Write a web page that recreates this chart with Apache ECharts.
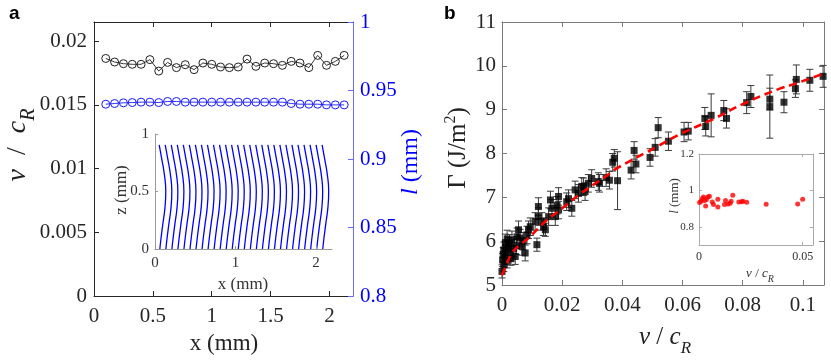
<!DOCTYPE html>
<html><head><meta charset="utf-8">
<script src="https://cdn.jsdelivr.net/npm/echarts@6/dist/echarts.min.js"></script>
<style>html,body{margin:0;padding:0;background:#fff}#c{width:831px;height:362px}</style>
</head><body><div id="c"></div>
<script>
// ---- Panel a: front velocity and length along x ----
const xPos = [0.10,0.175,0.25,0.325,0.40,0.475,0.55,0.625,0.70,0.775,0.85,0.925,1.00,1.075,1.15,1.225,1.30,1.375,1.45,1.525,1.60,1.675,1.75,1.825,1.90,1.975,2.05,2.125];
const vOverCR = [0.01864,0.01836,0.01823,0.01818,0.01818,0.01855,0.01765,0.01833,0.01792,0.01815,0.01776,0.01828,0.01818,0.01797,0.01792,0.01797,0.01859,0.01802,0.01828,0.01823,0.01810,0.01841,0.01828,0.01792,0.01888,0.01810,0.01841,0.01888];
const lengthMM = [0.9400,0.9405,0.9410,0.9412,0.9415,0.9415,0.9412,0.9420,0.9420,0.9415,0.9415,0.9415,0.9415,0.9415,0.9415,0.9415,0.9415,0.9415,0.9415,0.9415,0.9415,0.9405,0.9400,0.9400,0.9400,0.9395,0.9395,0.9395];
// inset a: front shape (offset from front mean position vs height z)
const frontZ  = [0.0, 0.10, 0.21, 0.36, 0.50, 0.64, 0.79, 0.905];
const frontDx = [-0.040, -0.024, -0.004, 0.024, 0.034, 0.018, -0.018, -0.048];
// ---- Panel b: fracture energy vs v/cR ----
const gV   = [0.0000,0.0006,0.0009,0.0006,0.0011,0.0017,0.0002,0.0022,0.0028,0.0017,0.0033,0.0039,0.0044,0.0055,0.0060,0.0066,0.0077,0.0083,0.0088,0.0094,0.0110,0.0116,0.0121,0.0121,0.0133,0.0138,0.0144,0.0155,0.0161,0.0166,0.0177,0.0183,0.0188,0.0188,0.0215,0.0221,0.0232,0.0243,0.0254,0.0265,0.0276,0.0287,0.0298,0.0320,
              0.0004,0.0013,0.0025,0.0030,0.0048,0.0050,0.0070,
              0.0271,0.0324,0.0346,0.0357,0.0368,0.0373,0.0384,0.0429,0.0439,0.0445,0.0492,0.0509,0.0519,0.0553,
              0.0605,0.0619,0.0674,0.0677,0.0695,0.0737,0.0746,0.0813,0.0827,0.0890,0.0890,0.0937,0.0975,0.0978,0.1023,0.1067];
const gGamma = [5.31,5.46,5.65,5.80,5.96,6.05,5.57,5.88,5.73,5.54,6.03,5.84,5.65,6.26,6.07,5.88,5.73,6.14,6.26,6.33,6.45,5.92,6.79,6.56,6.45,6.33,6.26,6.56,6.94,6.75,6.56,6.82,7.02,6.71,6.90,6.97,6.75,7.17,7.09,7.25,7.13,7.32,7.43,7.36,
              5.70,5.85,5.95,5.60,5.90,6.10,6.00,
              7.24,7.32,7.45,7.39,7.80,7.89,7.38,7.62,8.07,7.76,7.91,8.14,8.59,8.28,
              8.49,8.51,8.80,8.62,8.87,8.98,8.80,9.16,9.30,9.24,9.07,9.17,9.48,9.69,9.67,9.76];
const gErr = [0.15,0.15,0.18,0.18,0.2,0.2,0.15,0.2,0.18,0.15,0.2,0.2,0.18,0.2,0.2,0.2,0.18,0.2,0.2,0.2,0.2,0.15,0.2,0.2,0.2,0.2,0.15,0.2,0.2,0.2,0.2,0.2,0.2,0.2,0.2,0.2,0.18,0.2,0.2,0.2,0.2,0.2,0.2,0.2,
              0.15,0.18,0.2,0.15,0.2,0.2,0.2,
              0.2,0.2,0.2,0.2,0.2,0.2,0.66,0.2,0.2,0.2,0.2,0.2,0.23,0.21,
              0.22,0.2,0.25,0.22,0.49,0.23,0.22,0.25,0.25,0.25,0.72,0.24,0.2,0.33,0.25,0.25];
const fitV = [0,0.002,0.0033,0.006,0.0088,0.0144,0.02,0.0254,0.0343,0.0381,0.0519,0.0591,0.07,0.0813,0.0923,0.0978,0.1067];
const fitG = [5.22,5.55,5.73,5.92,6.07,6.45,6.75,7.05,7.47,7.66,8.17,8.44,8.78,9.17,9.48,9.60,9.82];
// inset b: front length vs v/cR
const insV = [0.0003,0.0010,0.0016,0.0022,0.0027,0.0032,0.0036,0.0043,0.0050,0.0064,0.0070,0.0091,0.0091,0.0123,0.0128,0.0140,0.0150,0.0155,0.0163,0.0192,0.0205,0.0212,0.0230,0.0324,0.0476,0.0500];
const insL = [0.933,0.940,0.955,0.964,0.945,0.914,0.950,0.964,0.968,0.936,0.922,0.951,0.909,0.922,0.945,0.925,0.930,0.940,0.973,0.936,0.938,0.940,0.935,0.924,0.925,0.951];
// tick values
const aXTicks = [0,0.5,1,1.5,2];
const aYTicks = [0,0.005,0.01,0.015,0.02];
const aY2Ticks = [0.8,0.85,0.9,0.95,1];
const iaXTicks = [0,1,2];
const iaYTicks = [0,0.5,1];
const bXTicks = [0,0.02,0.04,0.06,0.08,0.1];
const bYTicks = [5,6,7,8,9,10,11];
const ibXTicks = [0,0.05];
const ibYTicks = [0.8,1,1.2];

const SERIF = 'Liberation Serif';
const AX = '#262626';
function axis(o){
  const c = o.color || AX;
  return Object.assign({
    type:'value', min:o.min, max:o.max, gridIndex:o.grid, position:o.pos, z:o.z||0,
    axisLine:{show:true, onZero:false, lineStyle:{color:o.lineColor||c, width:1}},
    axisTick:{show:true, inside:true, length:o.tickLen||5, customValues:o.ticks, lineStyle:{color:o.lineColor||c}},
    axisLabel:{show:!o.noLabel, customValues:o.ticks, color:c, fontFamily:SERIF, fontStyle:'normal', fontWeight:'normal', fontSize:o.fs||21, margin:o.margin||8},
    splitLine:{show:false}
  }, o.extra||{});
}
const chart = echarts.init(document.getElementById('c'), null, {renderer:'canvas'});
const series = [];
series.push({type:'line', xAxisIndex:0, yAxisIndex:0, data:xPos.map((x,i)=>[x,vOverCR[i]]),
  symbol:'circle', symbolSize:8, itemStyle:{color:'rgba(0,0,0,0)', borderColor:'#222', borderWidth:1},
  lineStyle:{color:'#222', width:0.9}, z:3});
series.push({type:'line', xAxisIndex:0, yAxisIndex:1, data:xPos.map((x,i)=>[x,lengthMM[i]]),
  symbol:'circle', symbolSize:8, itemStyle:{color:'rgba(0,0,0,0)', borderColor:'#1a1aff', borderWidth:1},
  lineStyle:{color:'#1a1aff', width:0.9}, z:3});
xPos.forEach((x0)=>{
  series.push({type:'line', xAxisIndex:2, yAxisIndex:2, data:frontZ.map((z,k)=>[x0+frontDx[k], z]),
    smooth:0.5, showSymbol:false, symbol:'none', lineStyle:{color:'#0000ff', width:1.3}, silent:true, z:4});
});
series.push({type:'custom', xAxisIndex:3, yAxisIndex:3, data:gV.map((v,i)=>[v,gGamma[i]-gErr[i],gGamma[i]+gErr[i]]),
  renderItem:function(params, api){
    const lo = api.coord([api.value(0), api.value(1)]);
    const hi = api.coord([api.value(0), api.value(2)]);
    const w = 3.5;
    const st = {stroke:'#3a3a3a', lineWidth:1};
    return {type:'group', children:[
      {type:'line', shape:{x1:lo[0],y1:lo[1],x2:hi[0],y2:hi[1]}, style:st},
      {type:'line', shape:{x1:lo[0]-w,y1:lo[1],x2:lo[0]+w,y2:lo[1]}, style:st},
      {type:'line', shape:{x1:hi[0]-w,y1:hi[1],x2:hi[0]+w,y2:hi[1]}, style:st}
    ]};
  }, z:2});
series.push({type:'scatter', xAxisIndex:3, yAxisIndex:3, data:gV.map((v,i)=>[v,gGamma[i]]),
  symbol:'rect', symbolSize:7, itemStyle:{color:'#000'}, z:3});
series.push({type:'line', xAxisIndex:3, yAxisIndex:3, data:fitV.map((v,i)=>[v,fitG[i]]),
  smooth:0.4, showSymbol:false, symbol:'none', lineStyle:{color:'#ff0000', width:2.6, type:[8,5]}, z:5});
series.push({type:'scatter', xAxisIndex:5, yAxisIndex:5, data:insV.map((v,i)=>[v,insL[i]]),
  symbol:'circle', symbolSize:5, itemStyle:{color:'#ff0000'}, z:6});

function rt(x, y, rot, text, size, color, rich, z){
  const st = {text:text, x:0, y:0, align:'center', verticalAlign:'middle', textAlign:'center', textVerticalAlign:'middle',
    fill:color, font: size + 'px "Liberation Serif"'};
  if (rich) st.rich = rich;
  return {type:'text', x:x, y:y, rotation:rot, z:z||10, style:st};
}
function vcRich(size, sub, lh, color){
  return {i:{font:'italic ' + size + 'px "Liberation Serif"', lineHeight:lh, fill:color},
          n:{font:size + 'px "Liberation Serif"', lineHeight:lh, fill:color},
          s:{font:'italic ' + sub + 'px "Liberation Serif"', lineHeight:sub, verticalAlign:'bottom', fill:color}};
}
const option = {
  animation:false,
  backgroundColor:'#fff',
  textStyle:{fontFamily:SERIF},
  grid:[
    {left:94, top:22, width:259, height:274, show:false},
    {left:155, top:134, width:177, height:115, show:true, backgroundColor:'#fff', borderWidth:0, z:1},
    {left:502, top:22, width:322, height:263, show:false},
    {left:699, top:154, width:114, height:91, show:true, backgroundColor:'#fff', borderWidth:0, z:1}
  ],
  xAxis:[
    axis({grid:0,pos:'bottom',min:0,max:2.2,ticks:aXTicks,margin:10}),
    axis({grid:0,pos:'top',min:0,max:2.2,ticks:aXTicks,noLabel:true}),
    axis({grid:1,pos:'bottom',min:0,max:2.2,ticks:iaXTicks,fs:15,margin:7,color:'#333',lineColor:'#9a9a9a',tickLen:3,z:5}),
    axis({grid:2,pos:'bottom',min:0,max:0.107,ticks:bXTicks,margin:10,lineColor:'#7a7a7a'}),
    axis({grid:2,pos:'top',min:0,max:0.107,ticks:bXTicks,noLabel:true,lineColor:'#7a7a7a'}),
    axis({grid:3,pos:'bottom',min:0,max:0.055,ticks:ibXTicks,fs:12,margin:6,color:'#333',lineColor:'#aaa',tickLen:3,z:5}),
    axis({grid:3,pos:'top',min:0,max:0.055,ticks:ibXTicks,noLabel:true,lineColor:'#aaa',tickLen:3,z:5})
  ],
  yAxis:[
    axis({grid:0,pos:'left',min:0,max:0.0215,ticks:aYTicks,margin:7}),
    axis({grid:0,pos:'right',min:0.8,max:1,ticks:aY2Ticks,margin:7,color:'#0000ff',lineColor:'#6b6bff'}),
    axis({grid:1,pos:'left',min:0,max:1,ticks:iaYTicks,fs:15,margin:6,color:'#333',lineColor:'#9a9a9a',tickLen:3,z:5}),
    axis({grid:2,pos:'left',min:5,max:11,ticks:bYTicks,margin:6,lineColor:'#7a7a7a'}),
    axis({grid:2,pos:'right',min:5,max:11,ticks:bYTicks,noLabel:true,lineColor:'#7a7a7a'}),
    axis({grid:3,pos:'left',min:0.7,max:1.2,ticks:ibYTicks,fs:11,margin:5,color:'#333',lineColor:'#aaa',tickLen:3,z:5}),
    axis({grid:3,pos:'right',min:0.7,max:1.2,ticks:ibYTicks,noLabel:true,lineColor:'#aaa',tickLen:3,z:5})
  ],
  series:series,
  graphic:[
    {type:'text', left:9, top:4, style:{text:'a', font:'bold 19px "Liberation Sans"', fill:'#000'}},
    {type:'text', left:444, top:4, style:{text:'b', font:'bold 19px "Liberation Sans"', fill:'#000'}},
    rt(18, 145, Math.PI/2, '{i|v}{n|\u2002/\u2002}{i|c}{s|R}', 28, '#222', vcRich(28, 20, 42, '#222')),
    rt(411, 162, Math.PI/2, '{i|l}{n| (mm)}', 24, '#0000ff', {i:{font:'italic 24px "Liberation Serif"', fill:'#0000ff'}, n:{font:'24px "Liberation Serif"', fill:'#0000ff'}}),
    rt(224, 344, 0, 'x (mm)', 23, '#222'),
    rt(122, 190, Math.PI/2, 'z (mm)', 17, '#333'),
    rt(243, 285, 0, 'x (mm)', 17, '#333'),
    rt(458, 148, Math.PI/2, '{n|Γ (J/m}{p|2}{n|)}', 25, '#222', {n:{font:'25px "Liberation Serif"', lineHeight:30, fill:'#222'}, p:{font:'16px "Liberation Serif"', lineHeight:16, verticalAlign:'top', fill:'#222'}}),
    rt(665, 337, 0, '{i|v}{n| / }{i|c}{s|R}', 25, '#222', vcRich(25, 17, 40, '#222')),
    rt(675, 196, Math.PI/2, '{i|l}{n| (mm)}', 13, '#333', {i:{font:'italic 13px "Liberation Serif"', fill:'#333'}, n:{font:'13px "Liberation Serif"', fill:'#333'}}),
    rt(760, 274, 0, '{i|v}{n| / }{i|c}{s|R}', 13, '#333', vcRich(13, 10, 20, '#333'))
  ]
};
chart.setOption(option);
</script></body></html>
